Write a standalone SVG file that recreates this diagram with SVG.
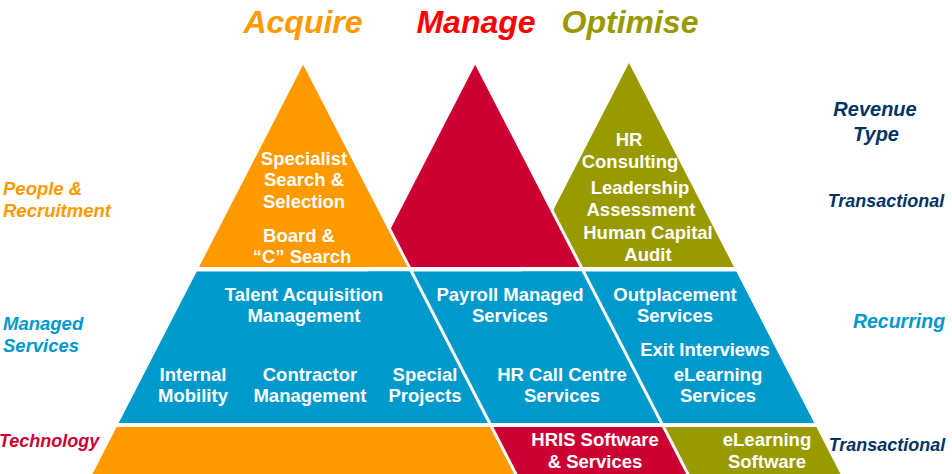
<svg xmlns="http://www.w3.org/2000/svg" width="952" height="474" viewBox="0 0 952 474">
<style>
.t{font-family:"Liberation Sans",Arial,sans-serif;font-weight:bold;fill:#fff;font-size:18.5px;text-anchor:middle}
.lab{font-family:"Liberation Sans",Arial,sans-serif;font-weight:bold;font-style:italic;font-size:18.5px}
.ttl{font-family:"Liberation Sans",Arial,sans-serif;font-weight:bold;font-style:italic;font-size:32px;text-anchor:middle}
.or{fill:#FF9900}.rd{fill:#CC0033}.ol{fill:#999900}.bl{fill:#0099CC}
.div{stroke:#fff;stroke-width:3;fill:none}
</style>
<rect width="952" height="474" fill="#fff"/>
<g id="titles">
<text class="ttl" x="303" y="33" fill="#FF9900">Acquire</text>
<text class="ttl" x="476" y="33" fill="#FF0000">Manage</text>
<text class="ttl" x="630" y="33" fill="#999900">Optimise</text>
</g>
<g id="optimise-top">
<polygon class="ol" points="629,63 734,267 524,267"/>
<text class="t" x="629" y="146">HR</text>
<text class="t" x="630" y="168">Consulting</text>
<text class="t" x="640" y="194">Leadership</text>
<text class="t" x="641" y="216">Assessment</text>
<text class="t" x="648" y="239">Human Capital</text>
<text class="t" x="648" y="261">Audit</text>
</g>
<g id="manage-top">
<polygon class="rd" points="476,63 581,267 371,267"/>
</g>
<g id="acquire-top">
<polygon class="or" points="304,63 409,267 199,267"/>
<text class="t" x="304" y="165">Specialist</text>
<text class="t" x="304" y="186">Search &amp;</text>
<text class="t" x="304" y="208">Selection</text>
<text class="t" x="299" y="242">Board &amp;</text>
<text class="t" x="302" y="263">“C” Search</text>
</g>
<g id="optimise-mid">
<polygon class="bl" points="521.7,271.5 736.3,271.5 814.3,423 443.7,423"/>
<text class="t" x="675" y="301">Outplacement</text>
<text class="t" x="675" y="322">Services</text>
<text class="t" x="705" y="356">Exit Interviews</text>
<text class="t" x="718" y="381">eLearning</text>
<text class="t" x="718" y="402">Services</text>
</g>
<g id="manage-mid">
<polygon class="bl" points="368.7,271.5 583.3,271.5 661.3,423 290.7,423"/>
<text class="t" x="510" y="301">Payroll Managed</text>
<text class="t" x="510" y="322">Services</text>
<text class="t" x="562" y="381">HR Call Centre</text>
<text class="t" x="562" y="402">Services</text>
</g>
<g id="acquire-mid">
<polygon class="bl" points="196.7,271.5 411.3,271.5 489.3,423 118.7,423"/>
<text class="t" x="304" y="301">Talent Acquisition</text>
<text class="t" x="304" y="322">Management</text>
<text class="t" x="193" y="381">Internal</text>
<text class="t" x="193" y="402">Mobility</text>
<text class="t" x="310" y="381">Contractor</text>
<text class="t" x="310" y="402">Management</text>
<text class="t" x="425" y="381">Special</text>
<text class="t" x="425" y="402">Projects</text>
</g>
<g id="optimise-bottom">
<polygon class="ol" points="441.6,427 816.4,427 840.5,474 417.5,474"/>
<text class="t" x="767" y="446">eLearning</text>
<text class="t" x="767" y="468">Software</text>
</g>
<g id="manage-bottom">
<polygon class="rd" points="288.6,427 663.4,427 687.5,474 264.5,474"/>
<text class="t" x="595" y="446">HRIS Software</text>
<text class="t" x="595" y="468">&amp; Services</text>
</g>
<g id="acquire-bottom">
<polygon class="or" points="116.6,427 491.4,427 515.5,474 92.5,474"/>
</g>
<g id="connectors">
<line class="div" x1="304" y1="63" x2="520" y2="482"/>
<line class="div" x1="476" y1="63" x2="692" y2="482"/>
</g>
<g id="left-labels">
<text class="lab" x="3" y="195" fill="#FF9900">People &amp;</text>
<text class="lab" x="3" y="217" fill="#FF9900">Recruitment</text>
<text class="lab" x="3" y="330" fill="#0099CC">Managed</text>
<text class="lab" x="3" y="352" fill="#0099CC">Services</text>
<text class="lab" x="-1" y="447" fill="#CC0033" style="font-size:18px">Technology</text>
</g>
<g id="right-labels">
<text class="lab" x="875" y="116" fill="#003366" style="font-size:20px;text-anchor:middle">Revenue</text>
<text class="lab" x="876" y="141" fill="#003366" style="font-size:20px;text-anchor:middle">Type</text>
<text class="lab" x="886" y="207" fill="#003366" style="font-size:18px;text-anchor:middle">Transactional</text>
<text class="lab" x="899" y="328" fill="#0099CC" style="font-size:19.5px;text-anchor:middle">Recurring</text>
<text class="lab" x="887" y="451" fill="#003366" style="font-size:18px;text-anchor:middle">Transactional</text>
</g>
</svg>
